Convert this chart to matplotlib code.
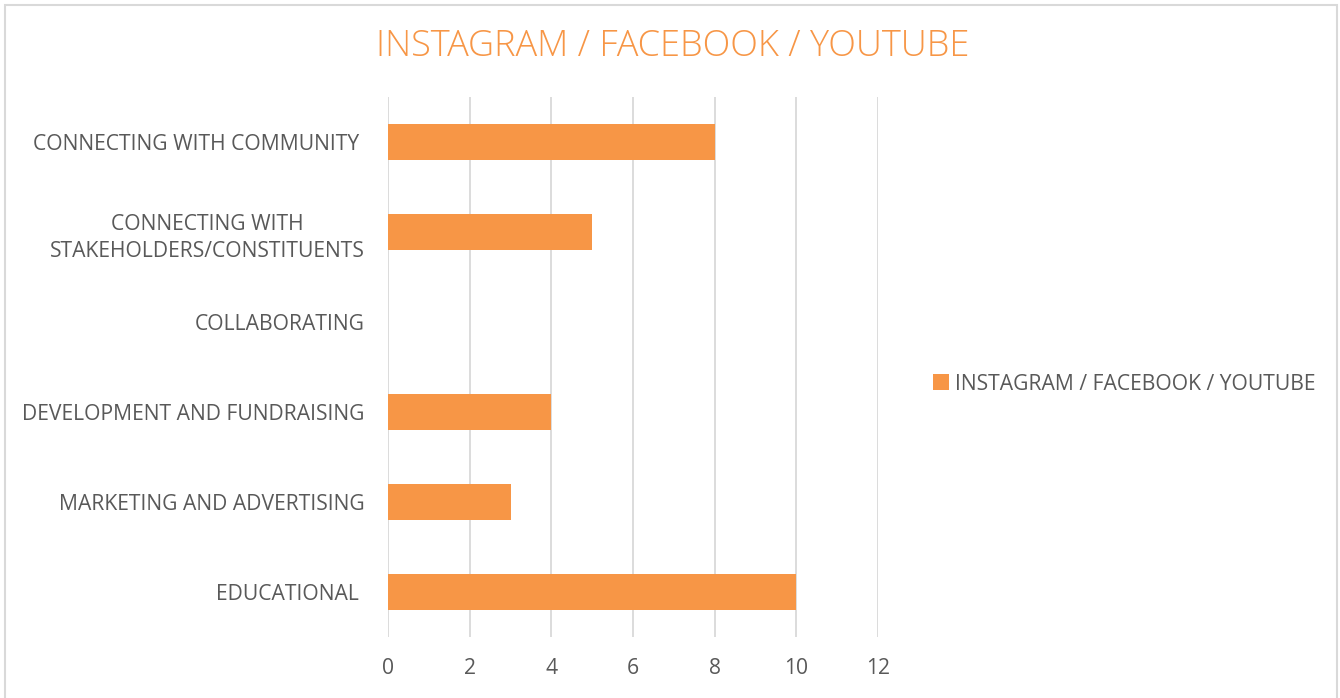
import matplotlib
matplotlib.use("Agg")
import matplotlib.pyplot as plt
from matplotlib.patches import Rectangle

categories = [
    "EDUCATIONAL ",
    "MARKETING AND ADVERTISING",
    "DEVELOPMENT AND FUNDRAISING",
    "COLLABORATING",
    "CONNECTING WITH\nSTAKEHOLDERS/CONSTITUENTS",
    "CONNECTING WITH COMMUNITY ",
]
values = [10, 3, 4, 0, 5, 8]
series_name = "INSTAGRAM / FACEBOOK / YOUTUBE"
title = "INSTAGRAM / FACEBOOK / YOUTUBE"
xticks = [0, 2, 4, 6, 8, 10, 12]

orange = "#F79646"
grey_text = "#595959"
grid_col = "#D9D9D9"
fs = 15.2

plt.rcParams['font.family'] = ['Open Sans', 'DejaVu Sans']

fig = plt.figure(figsize=(13.4, 6.98), dpi=100)
ax = fig.add_axes([388/1340, 1-636.75/698, 490/1340, 539.5/698])

y = list(range(len(categories)))
ax.barh(y, values, height=0.4, color=orange, label=series_name, zorder=3)
ax.set_xlim(0, 12)
ax.set_ylim(-0.5, len(categories) - 0.5)
ax.set_xticks(xticks)
ax.set_xticklabels([str(t) for t in xticks], fontsize=fs, color=grey_text)
ax.set_yticks(y)
ax.set_yticklabels(categories, fontsize=fs, color=grey_text, multialignment='center')
for lbl in ax.get_yticklabels():
    lbl.set_linespacing(1.4)
ax.tick_params(axis='both', length=0)
ax.tick_params(axis='x', pad=15)
ax.tick_params(axis='y', pad=17)
for s in ax.spines.values():
    s.set_visible(False)
ax.grid(axis='x', color=grid_col, linewidth=1.3, zorder=0)
ax.set_axisbelow(True)

fig.text(673/1340, 1-46/698, title, ha='center', va='center', fontsize=26,
         color=orange, fontweight='light')

leg = fig.legend(loc='center left', bbox_to_anchor=(914/1340, 1-384/698),
                 frameon=False, fontsize=fs, handlelength=0.75, handleheight=0.75,
                 handletextpad=0.3, labelcolor=grey_text)

fig.patches.append(Rectangle((5/1340, -0.01), 1332/1340, 1-5/698+0.01,
                             transform=fig.transFigure, fill=False,
                             edgecolor=grid_col, linewidth=1.5))

fig.savefig("out.png", dpi=100)
